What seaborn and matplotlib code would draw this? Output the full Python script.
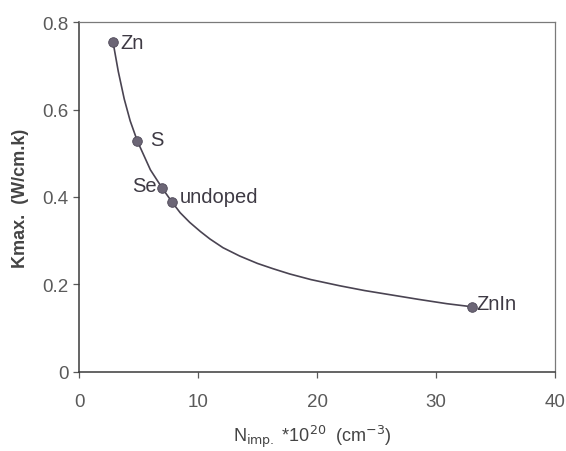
import pandas as pd
import matplotlib
matplotlib.use("Agg")
import matplotlib.pyplot as plt
import seaborn as sns

# measured samples
samples = ["Zn", "S", "Se", "undoped", "ZnIn"]
n_imp = [2.86, 4.9, 7.0, 7.8, 33.0]
k_max = [0.754, 0.528, 0.420, 0.389, 0.149]

# smooth curve, points
curve_x = [2.86, 3.3, 3.8, 4.3, 4.9, 6.0, 7.0, 7.8, 8.5, 9.3, 10.2, 11.0,
           12.1, 13.5, 15.0, 16.3, 17.7, 19.5, 21.9, 24.0, 26.7, 28.5,
           30.9, 33.0]
curve_y = [0.754, 0.687, 0.624, 0.574, 0.528, 0.462, 0.420, 0.389, 0.364,
           0.342, 0.321, 0.304, 0.284, 0.265, 0.248, 0.236, 0.224, 0.211,
           0.197, 0.186, 0.174, 0.166, 0.156, 0.149]

x_ticks = [0, 10, 20, 30, 40]
y_ticks = [0, 0.2, 0.4, 0.6, 0.8]
y_ticklabels = ["0", "0.2", "0.4", "0.6", "0.8"]

pts = pd.DataFrame({"N": n_imp, "K": k_max, "sample": samples})
curve = pd.DataFrame({"N": curve_x, "K": curve_y})

sns.set_style("ticks")
plt.rcParams["font.family"] = ["Liberation Sans", "DejaVu Sans"]

fig = plt.figure(figsize=(5.66, 4.52), dpi=100)
ax = fig.add_axes([0.1396, 0.175, 0.841, 0.774])

sns.lineplot(data=curve, x="N", y="K", sort=False, color="#4a4452",
             linewidth=1.2, ax=ax)
sns.scatterplot(data=pts, x="N", y="K", color="#6c6676", s=48,
                edgecolor="#4d4857", linewidth=0.6, zorder=3, ax=ax)

# label placement (offset in points)
offsets = {"Zn": (5, 0, "left"), "S": (9, 1, "left"), "Se": (-4, 2, "right"),
           "undoped": (6, 4, "left"), "ZnIn": (3, 2, "left")}
for s, x, y in zip(samples, n_imp, k_max):
    dx, dy, ha = offsets[s]
    ax.annotate(s, (x, y), xytext=(dx, dy), textcoords="offset points",
                ha=ha, va="center", fontsize=14.5, color="#3e3a44")

ax.set_xlim(0, 40)
ax.set_ylim(0, 0.8)
ax.set_xticks(x_ticks)
ax.set_yticks(y_ticks)
ax.set_yticklabels(y_ticklabels)
ax.tick_params(labelsize=13.5, colors="#5a5a5a", labelcolor="#5a5a5a",
               length=4, width=0.9)
ax.tick_params(axis="x", pad=11)

ax.set_xlabel(r"N$_{\rm imp.}$ *10$^{20}$  (cm$^{-3}$)", fontsize=13,
              color="#444444")
ax.xaxis.set_label_coords(0.49, -0.145)
ax.set_ylabel("Kmax.  (W/cm.k)", fontsize=13, color="#444444",
              fontweight="bold")
ax.yaxis.set_label_coords(-0.105, 0.5)

for side in ["left", "bottom"]:
    ax.spines[side].set_color("#3a3a3a")
    ax.spines[side].set_linewidth(1.1)
for side in ["top", "right"]:
    ax.spines[side].set_color("#7a7a7a")
    ax.spines[side].set_linewidth(0.9)

fig.savefig("out.png", dpi=100, facecolor="white")
